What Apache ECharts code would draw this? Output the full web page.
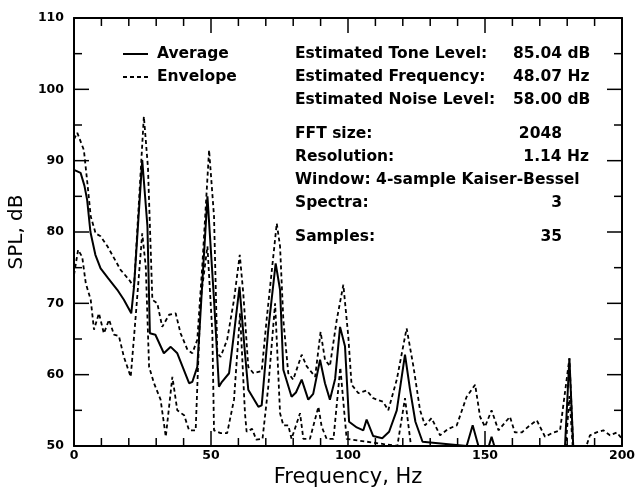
<!DOCTYPE html>
<html>
<head>
<meta charset="utf-8">
<script src="https://cdn.jsdelivr.net/npm/echarts/dist/echarts.min.js"></script>
<style>
html,body{margin:0;padding:0;background:#fff;}
#chart{width:638px;height:489px;}
</style>
</head>
<body>
<div id="chart"></div>
<script>
// ---- data ----
const xTicks = [0, 50, 100, 150, 200];
const yTicks = [50, 60, 70, 80, 90, 100, 110];

const avgFreq = [0, 2.4, 3.8, 4.8, 6, 7.8, 9.7, 12.5, 15.8, 18.2, 20.9, 21.9, 24.9, 26.8, 27.7, 29.7, 32.8, 35.3, 37.7, 42, 43.2, 45, 48.7, 51.1, 52.9, 54, 56.6, 58.4, 60.4, 62.4, 63.6, 67.3, 68.5, 70.9, 73.6, 75.2, 76.4, 79.4, 81, 83.1, 85.5, 87.3, 89.8, 91.6, 93.4, 95.3, 97.1, 98.9, 100.4, 103.2, 105.6, 106.8, 109.2, 112.5, 115, 117.8, 120.8, 122.6, 124.6, 127.2, 143.3, 145.5, 147.6, 151.4, 152.4, 153.4, 179.2, 180.8, 182.2, 200];
const avgLevel = [88.7, 88.3, 86.5, 84.5, 80, 76.8, 74.9, 73.5, 71.9, 70.5, 68.6, 72.3, 90.1, 80.8, 65.8, 65.6, 63, 63.9, 63, 58.8, 59, 61.1, 85, 70.5, 58.3, 59, 60.2, 65.8, 72.3, 63, 57.9, 55.5, 55.7, 66.3, 75.6, 71.9, 60.7, 56.9, 57.5, 59.3, 56.5, 57.3, 62.1, 58.8, 56.5, 59.4, 66.7, 64, 53.4, 52.6, 52.2, 53.7, 51.4, 51.1, 52, 55, 62.8, 58, 53.4, 50.6, 50, 52.9, 50, 50, 51.3, 50, 50, 62.3, 50, 50];

const upFreq = [0, 1.2, 3.6, 4.9, 6.1, 7.9, 9.7, 12.2, 17, 20.1, 21.9, 25.5, 27, 28.6, 30.4, 32.2, 34.7, 37.1, 38.9, 41.4, 43.2, 45, 46.8, 49.3, 51.1, 52.3, 53.5, 55.9, 58.4, 60.5, 61.8, 63.6, 65.5, 68.5, 70.3, 74, 75.2, 76.4, 78.2, 80, 83.1, 84.9, 88, 90, 91.6, 93.4, 95.9, 98.3, 100.1, 101.3, 103.8, 106.8, 109.2, 112.8, 114.7, 117.8, 121.4, 123.9, 126.3, 128.1, 130.5, 133.6, 136.6, 139.7, 143.3, 146.4, 148.2, 150, 152.4, 154.9, 159.1, 160.9, 163.4, 166.4, 168.9, 171.9, 175, 177.4, 180.8, 182.2, 187, 188.3, 190.7, 193.2, 195.6, 198.1, 200];
const upLevel = [93, 93.9, 91.5, 86.8, 82.2, 79.8, 79.4, 78, 74.7, 73.3, 72.3, 96.2, 89, 70.5, 70, 66.7, 68.4, 68.6, 65.8, 63.5, 63, 64.9, 75.1, 91.5, 82.2, 63, 62.5, 64.9, 70.5, 76.8, 71.3, 61.1, 60.2, 60.5, 67.7, 81.2, 78, 67.7, 60.2, 59.3, 62.8, 61.2, 59.7, 66, 62.1, 61.2, 67.7, 72.6, 65.4, 58.6, 57.4, 57.8, 56.7, 56.2, 55, 59.3, 66.5, 61.1, 55, 52.9, 53.9, 51.5, 52.4, 52.9, 56.9, 58.6, 54.1, 52.7, 55, 52.2, 54.1, 51.9, 51.9, 52.9, 53.6, 51.3, 51.9, 52.2, 62.3, 50, 50, 51.5, 51.9, 52.2, 51.5, 51.9, 51];

const loFreq = [0, 1.5, 3, 4.3, 6.1, 7.3, 9.1, 10.9, 12.8, 14.6, 16.4, 18.2, 20.7, 22.5, 24.9, 26.2, 27.4, 29.2, 31.6, 33.5, 35.9, 37.7, 40.2, 42, 44.4, 46.2, 48.7, 50.5, 51.1, 53.5, 55.9, 58.4, 60.6, 62.4, 63, 65, 66.5, 68.8, 70.9, 73.4, 75.2, 76.4, 78.2, 79.4, 82.5, 83.7, 86.1, 89.2, 90.4, 92.2, 94.7, 97.2, 99.5, 118, 120.8, 123, 179.5, 180.8, 182, 200];
const loLevel = [74, 77.5, 76.5, 72.8, 70.5, 66.3, 68.6, 65.8, 67.7, 65.6, 65.4, 62.5, 59.7, 68.1, 79.8, 75.1, 61.1, 58.8, 56.5, 51.3, 59.7, 55, 54.3, 52.2, 52.2, 70.5, 78, 65.8, 52.2, 51.8, 51.8, 56.5, 68.6, 54.6, 52, 52.4, 50.9, 51, 58.3, 70, 54.6, 52.9, 52.9, 51, 54.6, 51, 51, 55.5, 52.7, 51, 51, 61, 51, 50, 56.7, 50, 50, 57, 50, 50];

const legendNames = ['Average', 'Envelope'];
const infoLabels = ['Estimated Tone Level:', 'Estimated Frequency:', 'Estimated Noise Level:', 'FFT size:', 'Resolution:', 'Window: 4-sample Kaiser-Bessel', 'Spectra:', 'Samples:'];
const infoValues = ['85.04 dB', '48.07 Hz', '58.00 dB', '2048', '1.14 Hz', '', '3', '35'];

// ---- layout (not data) ----
const GRID = { left: 74, right: 16, top: 18, bottom: 43 };
const infoRowY = [54, 77, 100, 134, 157, 180, 203, 237];
const infoValX = [513, 513, 513, 562, 589, 0, 562, 562];
const infoValAlign = ['left', 'left', 'left', 'right', 'right', 'left', 'right', 'right'];
const legendRowY = [54, 77];
const xMinorSplit = 5, yMinorSplit = 2;
const majorLen = 15, minorLen = 8;

const zip = (a, b) => a.map((v, i) => [v, b[i]]);
const black = '#000';
const textFont = 'bold 15.5px "DejaVu Sans"';
const dash = [4, 3];

const xMin = xTicks[0], xMax = xTicks[xTicks.length - 1], xInt = xTicks[1] - xTicks[0];
const yMin = yTicks[0], yMax = yTicks[yTicks.length - 1], yInt = yTicks[1] - yTicks[0];

function makeAxis(extra) {
  const base = {
    type: 'value',
    axisLine: { show: true, onZero: false, lineStyle: { color: black, width: 2 } },
    axisTick: { show: false },
    minorTick: { show: false },
    splitLine: { show: false },
    minorSplitLine: { show: false }
  };
  return Object.assign(base, extra);
}

const chartEl = document.getElementById('chart');
const W = chartEl.clientWidth, H = chartEl.clientHeight;
const gL = GRID.left, gR = W - GRID.right, gT = GRID.top, gB = H - GRID.bottom;

const graphics = [];
legendNames.forEach((n, i) => {
  graphics.push({
    type: 'line', shape: { x1: 123, y1: legendRowY[i], x2: 148, y2: legendRowY[i] },
    style: { stroke: black, lineWidth: i === 0 ? 2 : 1.8, lineDash: i === 0 ? null : dash }
  });
  graphics.push({
    type: 'text', x: 157, y: legendRowY[i],
    style: { text: n, font: textFont, fill: black, align: 'left', verticalAlign: 'middle' }
  });
});
infoLabels.forEach((t, i) => {
  graphics.push({
    type: 'text', x: 295, y: infoRowY[i],
    style: { text: t, font: textFont, fill: black, align: 'left', verticalAlign: 'middle' }
  });
  if (infoValues[i]) {
    graphics.push({
      type: 'text', x: infoValX[i], y: infoRowY[i],
      style: { text: infoValues[i], font: textFont, fill: black, align: infoValAlign[i], verticalAlign: 'middle' }
    });
  }
});
// frame tick marks (axis decoration on all four sides)
const tickStyle = { stroke: black, lineWidth: 1.5 };
const nX = xMinorSplit * (xMax - xMin) / xInt, nY = yMinorSplit * (yMax - yMin) / yInt;
for (let k = 1; k < nX; k++) {
  const len = k % xMinorSplit === 0 ? majorLen : minorLen;
  const x = gL + (gR - gL) * k / nX;
  graphics.push({ type: 'line', z: 50, shape: { x1: x, y1: gB, x2: x, y2: gB - len }, style: tickStyle });
  graphics.push({ type: 'line', z: 50, shape: { x1: x, y1: gT, x2: x, y2: gT + len }, style: tickStyle });
}
for (let k = 1; k < nY; k++) {
  const len = k % yMinorSplit === 0 ? majorLen : minorLen;
  const y = gB - (gB - gT) * k / nY;
  graphics.push({ type: 'line', z: 50, shape: { x1: gL, y1: y, x2: gL + len, y2: y }, style: tickStyle });
  graphics.push({ type: 'line', z: 50, shape: { x1: gR, y1: y, x2: gR - len, y2: y }, style: tickStyle });
}

const chart = echarts.init(chartEl, null, { renderer: 'canvas' });
chart.setOption({
  animation: false,
  backgroundColor: '#fff',
  grid: Object.assign({ containLabel: false, outerBoundsMode: 'none' }, GRID),
  xAxis: [
    makeAxis({
      min: xMin, max: xMax, interval: xInt, position: 'bottom',
      axisLabel: { color: black, fontFamily: 'DejaVu Sans', fontWeight: 'bold', fontSize: 12.5, margin: 3 },
      name: 'Frequency, Hz', nameLocation: 'middle', nameGap: 12,
      nameTextStyle: { fontFamily: 'DejaVu Sans', fontSize: 21, color: black }
    }),
    makeAxis({ min: xMin, max: xMax, interval: xInt, position: 'top', axisLabel: { show: false } })
  ],
  yAxis: [
    makeAxis({
      min: yMin, max: yMax, interval: yInt, position: 'left',
      axisLabel: { color: black, fontFamily: 'DejaVu Sans', fontWeight: 'bold', fontSize: 12.5, margin: 10 },
      name: 'SPL, dB', nameLocation: 'middle', nameGap: 42, nameRotate: 90,
      nameTextStyle: { fontFamily: 'DejaVu Sans', fontSize: 20, color: black }
    }),
    makeAxis({ min: yMin, max: yMax, interval: yInt, position: 'right', axisLabel: { show: false } })
  ],
  series: [
    { name: 'Average', type: 'line', data: zip(avgFreq, avgLevel), symbol: 'none',
      lineStyle: { color: black, width: 2 }, itemStyle: { color: black } },
    { name: 'Envelope', type: 'line', data: zip(upFreq, upLevel), symbol: 'none',
      lineStyle: { color: black, width: 1.8, type: dash }, itemStyle: { color: black } },
    { name: 'Envelope', type: 'line', data: zip(loFreq, loLevel), symbol: 'none',
      lineStyle: { color: black, width: 1.8, type: dash }, itemStyle: { color: black } }
  ],
  graphic: graphics
});
</script>
</body>
</html>
